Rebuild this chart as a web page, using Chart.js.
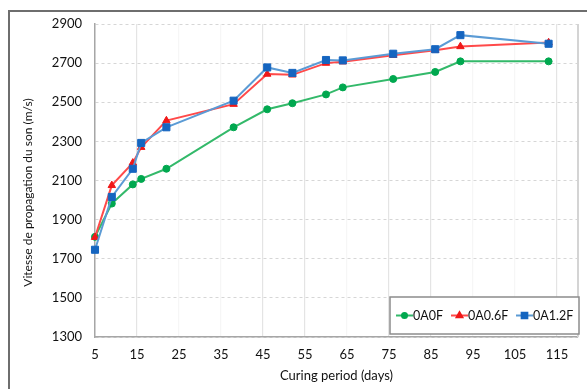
<!DOCTYPE html>
<html>
<head>
<meta charset="utf-8">
<script src="https://cdn.jsdelivr.net/npm/chart.js@4/dist/chart.umd.min.js"></script>
<style>
  html, body { margin: 0; padding: 0; background: #fff; }
  canvas { display: block; }
</style>
</head>
<body>
<canvas id="chart" width="587" height="389"></canvas>
<script>
// curing period (days) and sound velocity (m/s)
const days = [5, 9, 14, 16, 22, 38, 46, 52, 60, 64, 76, 86, 92, 113];
const oa0f = [1812, 1982, 2080, 2108, 2160, 2372, 2464, 2495, 2540, 2576, 2619, 2655, 2709, 2709];
const oa06f = [1810, 2075, 2190, 2270, 2406, 2490, 2644, 2640, 2700, 2707, 2740, 2766, 2785, 2805];
const oa12f = [1746, 2016, 2160, 2292, 2372, 2508, 2678, 2650, 2716, 2714, 2748, 2771, 2843, 2799];

const seriesNames = ['0A0F', '0A0.6F', '0A1.2F'];
const xTickVals = [5, 15, 25, 35, 45, 55, 65, 75, 85, 95, 105, 115];
const xVisibleGrid = [15, 45, 55, 75, 85, 115];
const yTitle = 'Vitesse de propagation du son (m/s)';
const xTitle = 'Curing period (days)';

const FONT = 'Lato, "Open Sans", sans-serif';

const styles = [
  { line: '#33b96a', point: '#00a84f', shape: 'circle', r: 3.5 },
  { line: '#ff4a4a', point: '#f01818', shape: 'triangle', r: 4.3 },
  { line: '#5b9bd5', point: '#1565c0', shape: 'rect', r: 5 }
];

const toPoints = vals => vals.map((v, i) => ({ x: days[i], y: v }));

const framePlugin = {
  id: 'frame',
  beforeDraw(chart) {
    const ctx = chart.ctx;
    ctx.save();
    ctx.fillStyle = '#fff';
    ctx.fillRect(0, 0, chart.width, chart.height);
    ctx.strokeStyle = '#6e6e6e';
    ctx.lineWidth = 2;
    ctx.beginPath();
    ctx.moveTo(9, chart.height);
    ctx.lineTo(9, 11);
    ctx.lineTo(chart.width, 11);
    ctx.stroke();

    // y axis title
    ctx.translate(28.5, 192.5);
    ctx.rotate(-Math.PI / 2);
    ctx.font = '12px ' + FONT;
    ctx.fillStyle = '#111';
    ctx.textAlign = 'center';
    ctx.textBaseline = 'middle';
    ctx.fillText(yTitle, 0, 0);
    ctx.restore();
  },
  afterDatasetsDraw(chart) {
    const { ctx, chartArea: a } = chart;
    ctx.save();
    // right edge of plot area
    ctx.strokeStyle = '#d4d4d4';
    ctx.lineWidth = 2;
    ctx.beginPath();
    ctx.moveTo(a.right, a.top);
    ctx.lineTo(a.right, a.bottom);
    ctx.stroke();

    // legend box in lower right corner
    const bx = 390, by = 297, bw = a.right + 1 - 390, bh = 37;
    ctx.fillStyle = '#fff';
    ctx.fillRect(bx, by, bw, bh);
    ctx.strokeStyle = '#8c8c8c';
    ctx.lineWidth = 1.5;
    ctx.strokeRect(bx, by, bw, bh);

    const cy = 315.5;
    const starts = [396, 451, 516];
    ctx.font = '12.5px ' + FONT;
    ctx.textBaseline = 'middle';
    ctx.textAlign = 'left';
    seriesNames.forEach((name, i) => {
      const s = styles[i];
      const x0 = starts[i];
      ctx.strokeStyle = s.line;
      ctx.lineWidth = 2;
      ctx.beginPath();
      ctx.moveTo(x0, cy);
      ctx.lineTo(x0 + 17, cy);
      ctx.stroke();
      ctx.fillStyle = s.point;
      ctx.strokeStyle = s.point;
      Chart.helpers.drawPoint(ctx, { pointStyle: s.shape, radius: s.r - 1, borderWidth: 1, rotation: 0 }, x0 + 8.5, cy);
      ctx.fillStyle = '#111';
      ctx.fillText(name, x0 + 17, cy);
    });
    ctx.restore();
  }
};

const mkSet = (i, vals, order) => ({
  label: seriesNames[i],
  data: toPoints(vals),
  borderColor: styles[i].line,
  borderWidth: 2,
  pointStyle: styles[i].shape,
  pointRadius: styles[i].r,
  pointBackgroundColor: styles[i].point,
  pointBorderColor: styles[i].point,
  pointBorderWidth: 1,
  tension: 0,
  clip: false,
  order: order
});

new Chart(document.getElementById('chart'), {
  type: 'line',
  data: {
    datasets: [
      mkSet(0, oa0f, 2),
      mkSet(1, oa06f, 1),
      mkSet(2, oa12f, 0)
    ]
  },
  options: {
    responsive: false,
    animation: false,
    layout: { padding: { top: 24, right: 9, bottom: 0, left: 0 } },
    plugins: { legend: { display: false }, tooltip: { enabled: false } },
    scales: {
      x: {
        type: 'linear',
        min: 5,
        max: 120,
        afterBuildTicks: axis => { axis.ticks = xTickVals.map(v => ({ value: v })); },
        afterFit: axis => { axis.height = 52; },
        ticks: {
          padding: 10,
          color: '#111',
          font: { family: FONT, size: 13 },
          maxRotation: 0,
          autoSkip: false,
          callback: v => String(v)
        },
        grid: {
          drawTicks: false,
          lineWidth: 1.2,
          color: c => xVisibleGrid.includes(c.tick && c.tick.value) ? '#e4e4e4' : '#f6f6f6'
        },
        border: { color: '#a6a6a6', width: 1.5 },
        title: {
          display: true,
          text: xTitle,
          color: '#111',
          font: { family: FONT, size: 13 },
          padding: { top: 0, bottom: 5 }
        }
      },
      y: {
        min: 1300,
        max: 2900,
        afterFit: axis => { axis.width = 95; },
        ticks: {
          stepSize: 200,
          padding: 13,
          color: '#111',
          font: { family: FONT, size: 13 },
          callback: v => String(v)
        },
        grid: {
          drawTicks: false,
          color: '#d6d6d6',
          lineWidth: 1
        },
        border: { color: '#a6a6a6', width: 1.5, dash: [3, 3] }
      }
    }
  },
  plugins: [framePlugin]
});
</script>
</body>
</html>
